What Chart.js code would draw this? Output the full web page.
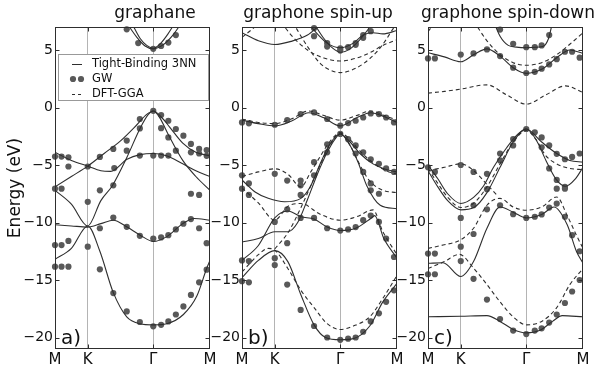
<!DOCTYPE html>
<html>
<head>
<meta charset="utf-8">
<script src="https://cdn.jsdelivr.net/npm/chart.js@4.4.0/dist/chart.umd.min.js"></script>
<style>
  html, body { margin: 0; padding: 0; background: #fff; }
  #wrap { position: relative; width: 600px; height: 369px; overflow: hidden; }
  canvas { position: absolute; top: 0; }
</style>
</head>
<body>
<div id="wrap">
  <canvas id="pa" width="225" height="369" style="left:0px"></canvas>
  <canvas id="pb" width="205" height="369" style="left:207px"></canvas>
  <canvas id="pc" width="207" height="369" style="left:393px"></canvas>
</div>
<script>
// path through the Brillouin zone: M -> K -> Gamma -> M (scaled distances)
const kTicks = [0, 1, 3, 4.732];
const kLabels = ['M', 'K', '\u0393', 'M'];
const eTicks = [-20, -15, -10, -5, 0, 5];
const seriesNames = ['Tight-Binding 3NN', 'GW', 'DFT-GGA'];

// ---- graphane ----
const aTB = [
  [[2.2,7.3],[2.5,6.1],[2.75,5.35],[3,5.1],[3.3,5.45],[3.6,6.3],[3.85,7.3]],
  [[2.35,7.3],[2.6,6.0],[2.8,5.4],[3,5.15],[3.2,5.5],[3.45,6.4],[3.65,7.3]],
  [[0,-7.2],[0.5,-8.4],[1,-10.3],[1.4,-8.1],[1.75,-6.8],[2.2,-4.3],[2.6,-1.8],[2.85,-0.6],[3,-0.3],[3.2,-0.9],[3.45,-2.3],[3.9,-4.6],[4.3,-6.0],[4.732,-7.2]],
  [[0,-6.9],[0.5,-6.0],[1,-5.1],[1.5,-4.0],[2,-2.9],[2.5,-1.5],[2.8,-0.6],[3,-0.3],[3.3,-1.0],[3.5,-1.7],[3.9,-3.1],[4.3,-3.9],[4.732,-4.2]],
  [[0,-3.9],[0.5,-4.6],[1,-5.1],[1.4,-5.5],[1.7,-5.55],[2.2,-4.5],[2.6,-4.1],[3,-4.0],[3.4,-4.2],[3.9,-4.9],[4.3,-5.5],[4.732,-6.0]],
  [[0,-10.2],[0.5,-10.3],[1,-10.4],[1.4,-10.1],[1.78,-9.8],[2.2,-10.4],[2.6,-11.1],[3,-11.65],[3.4,-11.25],[3.9,-10.1],[4.25,-9.65],[4.732,-9.8]],
  [[0,-13.2],[0.5,-12.25],[1,-10.3],[1.37,-12.5],[1.78,-16.1],[2.19,-18.2],[2.59,-18.8],[3,-18.9],[3.41,-18.8],[3.92,-18.0],[4.33,-16.4],[4.63,-14.0],[4.732,-13.3]]
];
const aGW = [
  [2.19,6.8],[2.54,5.6],[3,5.1],[3.24,5.35],[3.46,5.65],[3.69,6.3],
  [0,-4.27],[0.2,-4.27],[0.41,-4.33],[0.41,-5.13],[1,-5.13],[1.37,-4.3],[1.78,-3.6],[1.81,-5.27],
  [2.19,-2.88],[2.19,-3.75],[2.59,-1.0],[2.59,-1.82],[2.59,-4.18],[3,-0.29],[3,-4.18],
  [3.24,-0.66],[3.24,-1.8],[3.24,-4.18],[3.46,-1.15],[3.46,-2.6],[3.46,-4.18],[3.69,-1.87],[3.69,-3.75],
  [3.92,-2.45],[4.15,-3.17],[4.15,-3.9],[4.4,-3.6],[4.4,-4.0],[4.63,-3.7],[4.63,-4.2],
  [0,-7.06],[0.2,-7.06],[1,-8.2],[1.37,-7.2],[1.78,-6.77],[4.15,-7.5],[4.4,-7.6],
  [1.37,-10.5],[1.78,-9.57],[2.19,-10.38],[2.59,-11.16],[3,-11.4],[3.24,-11.3],[3.46,-11.1],[3.69,-10.6],
  [3.92,-10.1],[4.15,-9.7],[4.4,-10.5],[4.63,-11.8],
  [0,-11.96],[0.2,-11.96],[0.41,-11.6],[1,-12.1],
  [0,-13.84],[0.2,-13.84],[0.41,-13.84],[1.37,-14.07],[1.78,-16.14],[2.19,-17.73],[2.59,-18.65],[3,-19.03],
  [3.24,-18.9],[3.46,-18.6],[3.69,-18.0],[3.92,-17.3],[4.15,-16.3],[4.4,-15.2],[4.63,-14.1]
];
const aDFT = [];

// ---- graphone spin-up ----
const bTB = [
  [[0,6.5],[0.5,5.8],[1,5.48],[1.5,5.75],[2.0,6.3],[2.3,7.0],[2.45,7.4]],
  [[2.0,7.4],[2.3,6.4],[2.6,5.6],[3,5.2],[3.4,5.6],[3.7,6.3],[4.0,6.5],[4.3,6.4],[4.732,6.7]],
  [[2.2,7.3],[2.5,6.0],[2.75,5.2],[3,4.8],[3.3,5.1],[3.6,5.9],[3.85,6.8],[4.0,7.4]],
  [[0,-1.1],[0.5,-1.4],[1,-1.6],[1.5,-1.2],[2.04,-0.45],[2.5,-0.9],[3,-1.6],[3.5,-0.9],[3.93,-0.45],[4.35,-0.8],[4.732,-1.3]],
  [[0,-6.3],[0.4,-7.35],[0.8,-7.9],[1.3,-8.2],[1.8,-7.9],[2.1,-6.8],[2.4,-4.8],[2.7,-3.1],[3,-2.3],[3.3,-3.0],[3.6,-4.0],[4.0,-4.9],[4.4,-5.4],[4.732,-5.6]],
  [[0,-11.7],[0.5,-11.4],[1,-10.8],[1.4,-10.8],[1.7,-10.0],[2.0,-8.0],[2.3,-5.8],[2.6,-3.9],[2.85,-2.7],[3,-2.3],[3.3,-3.3],[3.55,-4.8],[3.81,-6.8],[4.22,-8.5],[4.732,-8.8]],
  [[0,-13.3],[0.5,-12.0],[1,-9.6],[1.4,-9.0],[1.8,-9.5],[2.2,-9.7],[2.6,-10.4],[3,-10.7],[3.47,-10.5],[3.93,-9.65],[4.05,-9.4],[4.33,-11.4],[4.732,-13.1]],
  [[0,-14.8],[0.5,-13.3],[1,-12.45],[1.4,-13.4],[1.8,-16.3],[2.2,-18.9],[2.55,-20.0],[3,-20.2],[3.4,-20.1],[3.9,-19.0],[4.3,-16.9],[4.732,-15.3]]
];
const bDFT = [
  [[1.2,7.4],[1.5,6.3],[2.0,5.0],[2.5,4.3],[3,4.04],[3.5,4.3],[3.93,4.8],[4.3,5.4],[4.732,5.9]],
  [[1.55,7.4],[2.0,5.3],[2.4,3.8],[2.7,3.25],[3,3.03],[3.3,3.2],[3.7,3.8],[4.1,4.8],[4.4,5.9],[4.6,6.8],[4.732,7.2]],
  [[0,6.1],[0.35,6.9],[0.55,7.4]],
  [[0,-1.0],[0.5,-1.3],[1,-1.4],[1.5,-1.0],[2.04,-0.3],[2.5,-0.7],[3,-1.1],[3.5,-0.7],[3.93,-0.3],[4.35,-0.7],[4.732,-1.1]],
  [[0,-6.0],[0.5,-5.6],[1,-5.33],[1.4,-5.8],[1.8,-6.9],[2.1,-5.6],[2.4,-4.2],[2.7,-2.9],[3,-2.2],[3.3,-2.8],[3.6,-3.8],[4.0,-4.8],[4.4,-5.5],[4.732,-5.8]],
  [[1.0,-12.3],[1.4,-10.9],[1.8,-8.7],[2.1,-6.8],[2.4,-4.9],[2.7,-3.2],[3,-2.2],[3.3,-3.3],[3.6,-5.0],[3.9,-6.4],[4.3,-7.2],[4.732,-7.4]],
  [[0,-7.0],[0.5,-8.3],[1,-9.8],[1.4,-8.6],[1.8,-8.35],[2.4,-9.3],[3,-9.8],[3.5,-9.5],[4.0,-8.9],[4.3,-10.8],[4.732,-12.8]],
  [[0,-14.3],[0.5,-12.8],[0.8,-12.25],[1.0,-12.4],[1.4,-14.0],[1.8,-15.9],[2.2,-17.4],[2.6,-18.8],[3,-19.3],[3.4,-19.0],[3.9,-18.2],[4.3,-16.6],[4.732,-14.6]]
];
const bGW = [
  [2.2,6.9],[2.2,6.2],[2.6,5.6],[2.6,5.3],[3,5.14],[3,4.95],[3.24,5.25],[3.47,5.6],[3.47,5.45],[3.7,6.06],[3.7,6.3],[3.93,6.64],
  [0,-1.3],[0.21,-1.38],[1,-1.5],[1.38,-1.09],[1.79,-0.57],[2.2,-0.43],[2.6,-1.0],[3,-1.58],[3.24,-1.35],[3.47,-1.15],
  [3.7,-0.87],[3.93,-0.52],[4.18,-0.57],[4.4,-0.87],[4.64,-1.3],
  [3,-2.3],[3.24,-2.75],[3.47,-3.3],[3.7,-3.9],[3.93,-4.5],[4.18,-4.9],[4.4,-5.3],[4.64,-5.6],[2.6,-3.2],[2.6,-3.9],
  [2.2,-4.75],[2.2,-5.9],[1.79,-6.35],[1.38,-6.35],[1,-5.77],[0,-5.9],[0.21,-6.6],[3.47,-4.0],[3.7,-5.6],[3.93,-6.6],
  [0,-7.06],[0.21,-7.6],[1,-9.95],[1.38,-8.85],[1.38,-11.8],[1.79,-6.77],[1.79,-7.6],[1.79,-9.6],[2.2,-9.6],[2.6,-10.5],
  [3,-10.7],[3.24,-10.6],[3.47,-10.4],[3.7,-9.8],[3.93,-9.4],[4.18,-9.95],[4.4,-11.4],[4.64,-13.0],
  [0,-13.3],[0.21,-13.35],[0,-15.1],[0.21,-15.2],[1,-13.1],[1,-13.7],[1.38,-15.4],[1.79,-17.6],[2.2,-19.0],[2.6,-20.0],
  [3,-20.2],[3.24,-20.1],[3.47,-20.0],[3.7,-19.5],[3.93,-18.6],[4.18,-17.9],[4.4,-16.9],[4.64,-15.9],[3.93,-7.2],[4.18,-7.5]
];

// ---- graphone spin-down ----
const cTB = [
  [[2.0,7.5],[2.2,6.2],[2.45,5.4],[2.7,5.25],[3,5.2],[3.5,5.3],[3.68,6.0],[3.8,7.4]],
  [[0,4.76],[0.5,4.4],[1,3.98],[1.4,4.6],[1.8,5.1],[2.2,4.47],[2.6,3.46],[3,2.97],[3.47,3.32],[3.93,4.33],[4.33,5.0],[4.732,4.7]],
  [[0,-5.0],[0.3,-6.2],[0.6,-7.5],[1,-8.35],[1.4,-7.8],[1.7,-6.8],[2.0,-5.2],[2.4,-3.5],[2.75,-2.3],[3,-1.87],[3.47,-3.0],[3.93,-4.0],[4.33,-4.6],[4.732,-4.75]],
  [[0,-5.5],[0.3,-6.9],[0.6,-8.1],[1,-8.9],[1.4,-8.7],[1.8,-7.4],[2.2,-5.2],[2.6,-3.0],[3,-1.87],[3.3,-2.8],[3.6,-4.6],[3.9,-6.2],[4.2,-6.85],[4.5,-6.2],[4.732,-5.2]],
  [[0,-13.55],[0.46,-13.5],[1,-14.7],[1.39,-13.4],[1.8,-10.5],[2.2,-8.65],[2.6,-9.1],[3,-9.6],[3.47,-9.3],[3.85,-8.65],[4.25,-10.2],[4.53,-12.5],[4.732,-13.55]],
  [[0,-18.2],[1,-18.15],[1.8,-18.1],[2.2,-18.6],[2.6,-19.3],[3,-19.6],[3.4,-19.4],[3.8,-18.6],[4.1,-18.1],[4.732,-18.2]]
];
const cDFT = [
  [[1.4,7.5],[1.8,5.8],[2.2,4.6],[2.6,3.9],[3,3.67],[3.47,3.9],[3.93,4.6],[4.33,5.5],[4.732,6.5]],
  [[0,6.6],[0.25,7.5]],
  [[0,1.25],[0.5,1.4],[1,1.6],[1.8,1.97],[2.4,1.1],[3,0.29],[3.6,1.1],[4.2,1.88],[4.732,1.3]],
  [[0,-5.3],[0.3,-6.6],[0.6,-7.8],[1,-8.7],[1.4,-8.3],[1.8,-6.9],[2.2,-4.9],[2.6,-3.0],[3,-2.0],[3.3,-2.8],[3.6,-4.2],[3.93,-4.9],[4.33,-5.3],[4.732,-5.4]],
  [[0,-5.5],[0.5,-5.2],[1,-4.9],[1.4,-5.5],[1.8,-6.7],[2.1,-7.6]],
  [[0,-12.25],[0.46,-11.96],[1,-11.5],[1.39,-10.5],[1.8,-8.5],[2.2,-7.9],[2.6,-8.65],[3,-8.93],[3.47,-8.65],[3.93,-7.78],[4.25,-9.4],[4.53,-11.1],[4.732,-12.25]],
  [[0,-14.0],[0.5,-13.4],[0.95,-12.77],[1.4,-14.0],[1.8,-15.4],[2.2,-16.9],[2.6,-18.2],[3,-18.9],[3.47,-18.6],[3.93,-17.4],[4.33,-15.4],[4.732,-14.0]]
];
const cGW = [
  [2.2,6.78],[2.6,5.54],[3,5.25],[3.26,5.25],[3.47,5.4],[3.7,6.3],
  [0,4.27],[0.21,4.27],[1,4.6],[1.39,4.7],[1.8,5.05],[2.2,4.47],[2.6,3.46],[3,3.0],[3.26,3.1],[3.47,3.38],[3.7,3.75],
  [3.93,4.2],[4.18,4.85],[4.4,4.85],[4.63,4.33],
  [3,-1.87],[3.26,-2.16],[3.47,-2.6],[3.7,-3.3],[3.93,-4.03],[4.18,-4.5],[4.4,-4.3],[4.63,-4.0],[2.6,-2.74],[2.6,-3.3],
  [2.2,-4.0],[2.2,-4.6],[1.8,-5.77],[1.39,-5.6],[1,-5.0],[0,-5.2],[0.21,-5.6],[3.47,-3.46],[3.7,-5.3],[3.93,-6.3],[4.18,-6.9],
  [0,-12.7],[0.21,-12.7],[0,-14.5],[0.21,-14.5],[1,-12.1],[1,-13.35],[1,-9.6],[1.39,-11.0],[1.39,-14.9],[1.39,-8.5],
  [1.8,-8.85],[1.8,-16.7],[1.8,-7.1],[2.2,-8.5],[2.2,-18.4],[2.6,-9.28],[2.6,-19.4],[3,-9.6],[3,-19.7],[3.26,-9.5],
  [3.26,-19.4],[3.47,-9.3],[3.47,-19.2],[3.7,-8.7],[3.7,-18.7],[3.93,-8.35],[3.93,-18.0],[4.18,-9.5],[4.18,-17.0],
  [4.4,-11.1],[4.4,-16.0],[4.63,-12.5],[4.63,-15.0],[3.93,-7.06],[4.18,-7.06]
];

const FONT = '"DejaVu Sans", sans-serif';
const INK = '#2e2e2e';

function lineSets(bands, dashed) {
  return bands.map(b => ({
    label: dashed ? seriesNames[2] : seriesNames[0],
    data: b.map(p => ({ x: p[0], y: p[1] })),
    borderColor: INK,
    borderWidth: 1.1,
    borderDash: dashed ? [4, 3] : [],
    pointRadius: 0,
    cubicInterpolationMode: 'monotone',
    clip: 0
  }));
}

function dotSet(pts) {
  return {
    label: seriesNames[1],
    data: pts.map(p => ({ x: p[0], y: p[1] })),
    showLine: false,
    pointRadius: 3.1,
    pointBorderWidth: 0,
    pointBackgroundColor: '#595959',
    clip: false
  };
}

// frame, inward ticks, titles, panel tag, legend
const decor = {
  id: 'decor',
  afterDraw(chart, args, o) {
    const { ctx, chartArea: a, scales } = chart;
    ctx.save();
    ctx.strokeStyle = INK;
    ctx.lineWidth = 1;
    const L = Math.round(a.left) + 0.5, R = Math.round(a.right) - 0.5;
    const T = Math.round(a.top) + 0.5, B = Math.round(a.bottom) - 0.5;
    ctx.strokeRect(L, T, R - L, B - T);
    ctx.beginPath();
    eTicks.forEach(v => {
      const y = Math.round(scales.y.getPixelForValue(v)) + 0.5;
      ctx.moveTo(L, y); ctx.lineTo(L + 4, y);
      ctx.moveTo(R, y); ctx.lineTo(R - 4, y);
    });
    kTicks.slice(1, 3).forEach(v => {
      const x = Math.round(scales.x.getPixelForValue(v)) + 0.5;
      ctx.moveTo(x, T); ctx.lineTo(x, T + 4);
      ctx.moveTo(x, B); ctx.lineTo(x, B - 4);
    });
    ctx.stroke();

    ctx.fillStyle = '#111';
    ctx.textAlign = 'center';
    ctx.textBaseline = 'alphabetic';
    ctx.font = '17px ' + FONT;
    ctx.fillText(o.title, o.titleX, 18);

    ctx.textAlign = 'left';
    ctx.font = '20px ' + FONT;
    ctx.fillText(o.tag, a.left + 6, 344);

    if (o.ylabel) {
      ctx.save();
      ctx.translate(16, 188);
      ctx.rotate(-Math.PI / 2);
      ctx.textAlign = 'center';
      ctx.textBaseline = 'middle';
      ctx.font = '17px ' + FONT;
      ctx.fillText(o.ylabel, 0, 0);
      ctx.restore();
    }

    if (o.legend) {
      const x0 = a.left + 3.5, y0 = 54.5;
      ctx.fillStyle = '#fff';
      ctx.strokeStyle = '#999';
      ctx.fillRect(x0, y0, 150, 46);
      ctx.strokeRect(x0, y0, 150, 46);
      const rows = [64, 79, 94];
      ctx.strokeStyle = INK;
      ctx.beginPath();
      ctx.moveTo(a.left + 17, rows[0] + 0.5); ctx.lineTo(a.left + 27, rows[0] + 0.5);
      ctx.stroke();
      ctx.setLineDash([3, 3]);
      ctx.beginPath();
      ctx.moveTo(a.left + 17, rows[2] + 0.5); ctx.lineTo(a.left + 27, rows[2] + 0.5);
      ctx.stroke();
      ctx.setLineDash([]);
      ctx.fillStyle = '#595959';
      [a.left + 18, a.left + 26].forEach(x => {
        ctx.beginPath(); ctx.arc(x, rows[1], 3.1, 0, Math.PI * 2); ctx.fill();
      });
      ctx.fillStyle = '#111';
      ctx.font = '11.5px ' + FONT;
      ctx.textBaseline = 'middle';
      seriesNames.forEach((s, i) => ctx.fillText(s, a.left + 37, rows[i]));
    }
    ctx.restore();
  }
};

function makePanel(id, yw, pr, tb, gw, dft, deco) {
  const fmt = v => (v < 0 ? '\u2212' + Math.abs(v) : String(v));
  new Chart(document.getElementById(id), {
    type: 'line',
    data: { datasets: [...lineSets(tb, false), ...lineSets(dft, true), dotSet(gw)] },
    options: {
      responsive: false,
      animation: false,
      events: [],
      layout: { padding: { top: 27, right: pr, bottom: 0, left: 0 } },
      scales: {
        x: {
          type: 'linear', min: 0, max: kTicks[3],
          afterBuildTicks: ax => { ax.ticks = kTicks.map(v => ({ value: v })); },
          afterFit: ax => { ax.height = 20; },
          ticks: {
            autoSkip: false, maxRotation: 0, padding: 2,
            color: '#111', font: { family: FONT, size: 15 },
            callback: (v, i) => kLabels[i]
          },
          grid: {
            drawTicks: false,
            color: c => (c.tick && (c.tick.value === 1 || c.tick.value === 3)) ? '#b4b4b4' : 'rgba(0,0,0,0)'
          },
          border: { display: false }
        },
        y: {
          type: 'linear', min: -21, max: 7,
          afterBuildTicks: ax => { ax.ticks = eTicks.map(v => ({ value: v })); },
          afterFit: ax => { ax.width = yw; },
          ticks: { padding: 2, color: '#111', font: { family: FONT, size: 14 }, callback: v => fmt(v) },
          grid: { display: false, drawTicks: false },
          border: { display: false }
        }
      },
      plugins: { legend: { display: false }, tooltip: { enabled: false }, decor: deco }
    },
    plugins: [decor]
  });
}

makePanel('pa', 55, 15, aTB, aGW, aDFT,
  { title: 'graphane', titleX: 155, tag: 'a)', legend: true, ylabel: 'Energy (eV)' });
makePanel('pb', 35, 15, bTB, bGW, bDFT,
  { title: 'graphone spin-up', titleX: 111, tag: 'b)' });
makePanel('pc', 35, 17, cTB, cGW, cDFT,
  { title: 'graphone spin-down', titleX: 115, tag: 'c)' });
</script>
</body>
</html>
